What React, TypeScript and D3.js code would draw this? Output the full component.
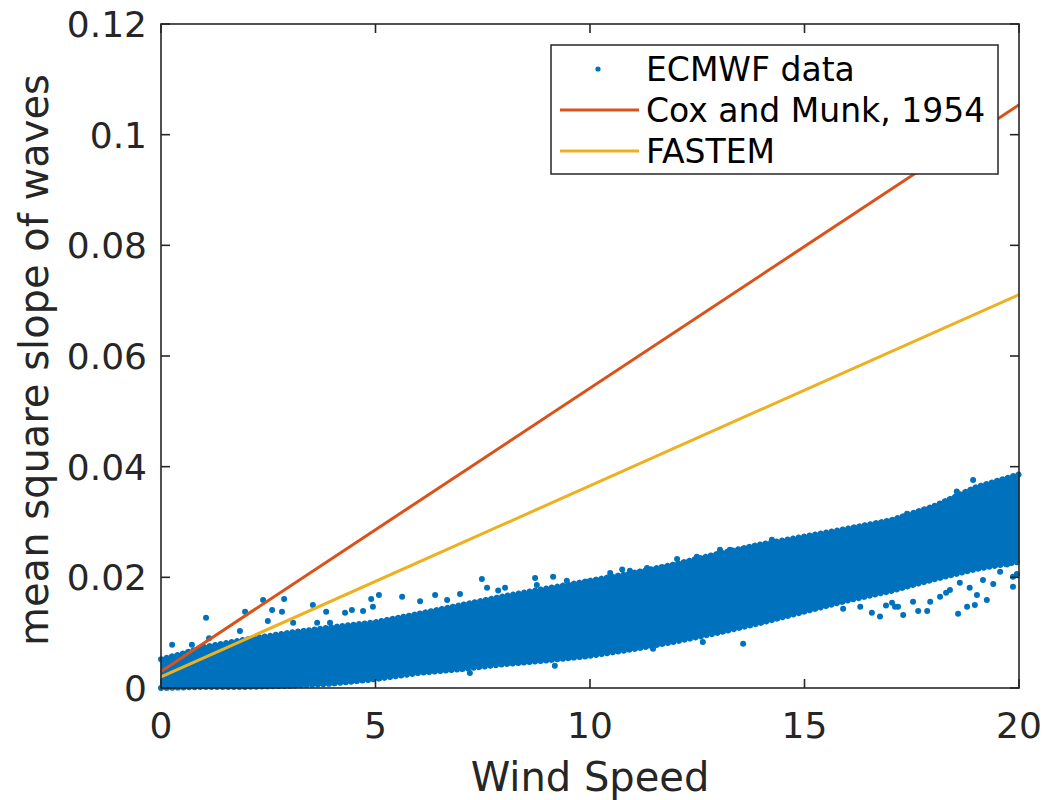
import React from 'react';
import * as d3 from 'd3';

// Canvas and plot box
const WIDTH = 1047;
const HEIGHT = 800;
const PLOT = { left: 161, right: 1019, top: 24, bottom: 688 };

const FONT = '"DejaVu Sans", "Liberation Sans", sans-serif';
const INK = '#262626';
const BLUE = '#0072BD';
const RED = '#D95319';
const YELLOW = '#EDB120';

// Axis ticks
const xTicks = [0, 5, 10, 15, 20];
const xTickLabels = ['0', '5', '10', '15', '20'];
const yTicks = [0, 0.02, 0.04, 0.06, 0.08, 0.1, 0.12];
const yTickLabels = ['0', '0.02', '0.04', '0.06', '0.08', '0.1', '0.12'];

// Dense core of the ECMWF cloud: lower / upper mean square slope per wind speed
const coreWind = [0, 0.5, 1, 2, 3, 4, 5, 6, 7, 8, 9, 10, 11, 12, 13, 14, 15, 16, 17, 18, 19, 20];
const coreUpper = [0.0052, 0.0062, 0.0074, 0.0088, 0.01, 0.011, 0.0119, 0.0134, 0.015, 0.0166, 0.018, 0.0194, 0.0208, 0.0224, 0.0243, 0.026, 0.0274, 0.0288, 0.0303, 0.0328, 0.0363, 0.0386];
const coreLower = [0.0, 0.0001, 0.0002, 0.0002, 0.0004, 0.0008, 0.0016, 0.0027, 0.0034, 0.0043, 0.005, 0.0058, 0.007, 0.0084, 0.01, 0.0118, 0.0138, 0.0158, 0.0175, 0.0196, 0.0215, 0.0228];

// Isolated ECMWF samples outside the dense core
const outlierWind = [
  0.26, 0.72, 1.05, 1.12, 1.84, 1.96, 2.38, 2.87, 2.59, 2.82, 2.49, 3.08, 3.54, 3.85, 3.64, 3.94,
  4.29, 4.45, 4.71, 4.9, 5.08, 4.94, 5.62, 6.04, 6.39, 6.67, 6.97, 7.48, 7.6, 7.86, 8.02, 8.72,
  8.76, 9.14, 9.46, 9.93, 10.47, 10.75, 10.93, 11.33, 12.03, 12.49, 12.68, 13.03, 13.26, 14.24,
  17.39, 18.55, 18.93,
  7.2, 9.18, 11.47, 12.63, 13.57, 16.57, 16.76, 17.11, 17.3, 17.65, 17.86, 18.58, 18.79, 18.97,
  19.25, 18.16, 18.39, 19.86, 19.86, 17.53, 17.93, 19.02, 17.04, 18.62, 19.16, 19.56, 19.72,
  17.18, 18.3, 18.85, 19.4, 16.9, 19.95, 15.9, 16.3,
];
const outlierMss = [
  0.0078, 0.0078, 0.0127, 0.009, 0.0103, 0.0138, 0.0159, 0.0161, 0.0141, 0.0138, 0.0121, 0.0118, 0.015, 0.0138, 0.0118, 0.0118,
  0.0136, 0.0141, 0.0139, 0.0161, 0.0168, 0.0147, 0.0165, 0.0157, 0.0168, 0.0159, 0.017, 0.0197, 0.0181, 0.0176, 0.0181, 0.0199,
  0.0186, 0.0201, 0.0194, 0.0192, 0.0208, 0.0214, 0.0212, 0.0217, 0.0233, 0.0237, 0.0228, 0.025, 0.025, 0.0268,
  0.0315, 0.0355, 0.0376,
  0.0027, 0.004, 0.0071, 0.0083, 0.008, 0.0136, 0.0129, 0.0147, 0.0132, 0.0139, 0.0139, 0.0134, 0.0147, 0.015,
  0.0159, 0.0165, 0.0177, 0.0183, 0.0201, 0.0156, 0.0156, 0.0168, 0.0154, 0.019, 0.0195, 0.021, 0.0223,
  0.0147, 0.0172, 0.0181, 0.0188, 0.0149, 0.0206, 0.0143, 0.0147,
];

// Reference parameterisations (linear in wind speed)
const lineWind = [0, 20];
const coxMunk = [0.003, 0.1054];
const fastem = [0.002, 0.0711];

const legendLabels = ['ECMWF data', 'Cox and Munk, 1954', 'FASTEM'];

type CorePoint = { u: number; lo: number; hi: number };

export default function App() {
  const x = d3.scaleLinear().domain([0, 20]).range([PLOT.left, PLOT.right]);
  const y = d3.scaleLinear().domain([0, 0.12]).range([PLOT.bottom, PLOT.top]);

  const core: CorePoint[] = coreWind.map((u, i) => ({ u, lo: coreLower[i], hi: coreUpper[i] }));
  const coreArea = d3
    .area<CorePoint>()
    .x((d) => x(d.u))
    .y0((d) => y(d.lo))
    .y1((d) => y(d.hi));
  const coreUpperLine = d3
    .line<CorePoint>()
    .x((d) => x(d.u))
    .y((d) => y(d.hi));
  const coreLowerLine = d3
    .line<CorePoint>()
    .x((d) => x(d.u))
    .y((d) => y(d.lo));

  const lineGen = d3
    .line<[number, number]>()
    .x((d) => x(d[0]))
    .y((d) => y(d[1]));
  const coxPts: [number, number][] = lineWind.map((u, i) => [u, coxMunk[i]]);
  const fastemPts: [number, number][] = lineWind.map((u, i) => [u, fastem[i]]);

  const tickLen = 9;
  const legend = { x: 551, y: 45, w: 447, h: 129 };
  const legendRows = [69, 110, 151];

  return (
    <svg
      width={WIDTH}
      height={HEIGHT}
      style={{ position: 'absolute', left: 0, top: 0, background: '#fff' }}
      fontFamily={FONT}
    >
      <rect x={0} y={0} width={WIDTH} height={HEIGHT} fill="#fff" />

      {/* ECMWF scatter: dense core plus its ragged edge */}
      <g>
        <path d={coreArea(core) ?? ''} fill={BLUE} stroke={BLUE} strokeWidth={1} />
        <path
          d={coreUpperLine(core) ?? ''}
          fill="none"
          stroke={BLUE}
          strokeWidth={6}
          strokeLinecap="round"
          strokeDasharray="0.1 5.5"
        />
        <path
          d={coreLowerLine(core) ?? ''}
          fill="none"
          stroke={BLUE}
          strokeWidth={6}
          strokeLinecap="round"
          strokeDasharray="0.1 5.5"
        />
        {outlierWind.map((u, i) => (
          <circle key={i} cx={x(u)} cy={y(outlierMss[i])} r={3} fill={BLUE} />
        ))}
      </g>

      {/* Reference curves */}
      <path d={lineGen(coxPts) ?? ''} fill="none" stroke={RED} strokeWidth={3} />
      <path d={lineGen(fastemPts) ?? ''} fill="none" stroke={YELLOW} strokeWidth={3} />

      {/* Axes box and ticks */}
      <rect
        x={PLOT.left}
        y={PLOT.top}
        width={PLOT.right - PLOT.left}
        height={PLOT.bottom - PLOT.top}
        fill="none"
        stroke={INK}
        strokeWidth={1.6}
      />
      {xTicks.map((t) => (
        <g key={'xt' + t}>
          <line x1={x(t)} x2={x(t)} y1={PLOT.bottom} y2={PLOT.bottom - tickLen} stroke={INK} strokeWidth={1.6} />
          <line x1={x(t)} x2={x(t)} y1={PLOT.top} y2={PLOT.top + tickLen} stroke={INK} strokeWidth={1.6} />
        </g>
      ))}
      {yTicks.map((t) => (
        <g key={'yt' + t}>
          <line x1={PLOT.left} x2={PLOT.left + tickLen} y1={y(t)} y2={y(t)} stroke={INK} strokeWidth={1.6} />
          <line x1={PLOT.right} x2={PLOT.right - tickLen} y1={y(t)} y2={y(t)} stroke={INK} strokeWidth={1.6} />
        </g>
      ))}

      {/* Tick labels */}
      {xTicks.map((t, i) => (
        <text key={'xl' + t} x={x(t)} y={738} textAnchor="middle" fontSize={36} fill={INK}>
          {xTickLabels[i]}
        </text>
      ))}
      {yTicks.map((t, i) => (
        <text key={'yl' + t} x={147} y={y(t) + 13} textAnchor="end" fontSize={36} fill={INK}>
          {yTickLabels[i]}
        </text>
      ))}

      {/* Axis titles */}
      <text x={(PLOT.left + PLOT.right) / 2} y={791} textAnchor="middle" fontSize={40} fill={INK}>
        Wind Speed
      </text>
      <text
        transform={`translate(48, ${(PLOT.top + PLOT.bottom) / 2 + 4}) rotate(-90)`}
        textAnchor="middle"
        fontSize={40}
        fill={INK}
      >
        mean square slope of waves
      </text>

      {/* Legend */}
      <g>
        <rect x={legend.x} y={legend.y} width={legend.w} height={legend.h} fill="#fff" stroke={INK} strokeWidth={1.5} />
        <circle cx={598} cy={legendRows[0]} r={2.6} fill={BLUE} />
        <line x1={560} x2={639} y1={legendRows[1]} y2={legendRows[1]} stroke={RED} strokeWidth={3} />
        <line x1={560} x2={639} y1={legendRows[2]} y2={legendRows[2]} stroke={YELLOW} strokeWidth={3} />
        {legendLabels.map((s, i) => (
          <text key={s} x={646} y={legendRows[i] + 12} fontSize={33} fill="#000">
            {s}
          </text>
        ))}
      </g>
    </svg>
  );
}
